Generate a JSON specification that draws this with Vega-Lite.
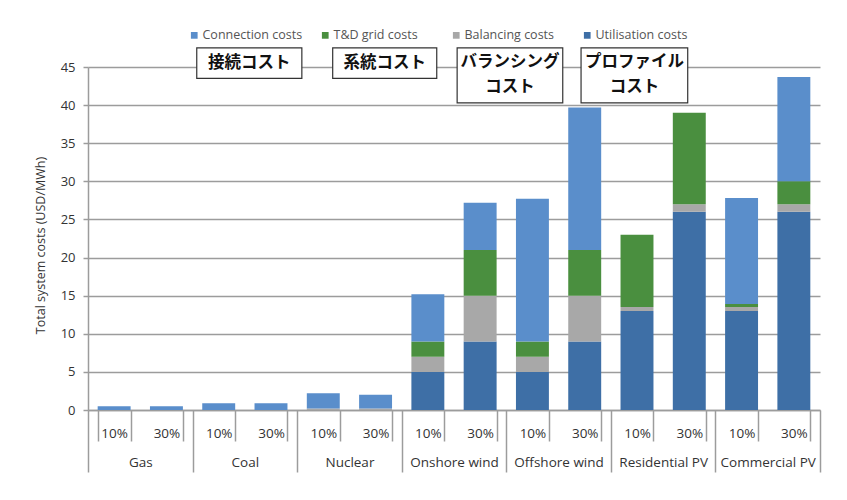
{
  "$schema": "https://vega.github.io/schema/vega-lite/v6.json",
  "autosize": {"type": "none"},
  "padding": {"left": 88, "top": 67, "right": 27, "bottom": 90},
  "width": 732,
  "height": 343,
  "config": {
    "view": {"stroke": null},
    "font": "Open Sans",
    "axis": {"labelFont": "Open Sans", "titleFont": "Open Sans"},
    "axisY": {
      "grid": true,
      "gridColor": "#9c9c9c",
      "gridWidth": 1.5,
      "domainColor": "#9c9c9c",
      "domainWidth": 1.5,
      "tickColor": "#9c9c9c",
      "tickWidth": 1.5,
      "tickSize": 5,
      "labelPadding": 8,
      "labelFontSize": 13,
      "labelColor": "#333333",
      "titleFontSize": 12.5,
      "titleFontWeight": "normal",
      "titleColor": "#333333",
      "titlePadding": 13,
      "titleY": 178
    }
  },
  "datasets": {
    "costs": [
      {"key": "Gas|10%", "tech": "Gas", "cost": "Connection costs", "value": 0.5},
      {"key": "Gas|30%", "tech": "Gas", "cost": "Connection costs", "value": 0.5},
      {"key": "Coal|10%", "tech": "Coal", "cost": "Connection costs", "value": 0.9},
      {"key": "Coal|30%", "tech": "Coal", "cost": "Connection costs", "value": 0.9},
      {"key": "Nuclear|10%", "tech": "Nuclear", "cost": "Balancing costs", "value": 0.2},
      {"key": "Nuclear|10%", "tech": "Nuclear", "cost": "Connection costs", "value": 2.0},
      {"key": "Nuclear|30%", "tech": "Nuclear", "cost": "Balancing costs", "value": 0.2},
      {"key": "Nuclear|30%", "tech": "Nuclear", "cost": "Connection costs", "value": 1.8},
      {"key": "Onshore wind|10%", "tech": "Onshore wind", "cost": "Utilisation costs", "value": 5},
      {"key": "Onshore wind|10%", "tech": "Onshore wind", "cost": "Balancing costs", "value": 2},
      {"key": "Onshore wind|10%", "tech": "Onshore wind", "cost": "T&D grid costs", "value": 2},
      {"key": "Onshore wind|10%", "tech": "Onshore wind", "cost": "Connection costs", "value": 6.2},
      {"key": "Onshore wind|30%", "tech": "Onshore wind", "cost": "Utilisation costs", "value": 9},
      {"key": "Onshore wind|30%", "tech": "Onshore wind", "cost": "Balancing costs", "value": 6},
      {"key": "Onshore wind|30%", "tech": "Onshore wind", "cost": "T&D grid costs", "value": 6},
      {"key": "Onshore wind|30%", "tech": "Onshore wind", "cost": "Connection costs", "value": 6.2},
      {"key": "Offshore wind|10%", "tech": "Offshore wind", "cost": "Utilisation costs", "value": 5},
      {"key": "Offshore wind|10%", "tech": "Offshore wind", "cost": "Balancing costs", "value": 2},
      {"key": "Offshore wind|10%", "tech": "Offshore wind", "cost": "T&D grid costs", "value": 2},
      {"key": "Offshore wind|10%", "tech": "Offshore wind", "cost": "Connection costs", "value": 18.7},
      {"key": "Offshore wind|30%", "tech": "Offshore wind", "cost": "Utilisation costs", "value": 9},
      {"key": "Offshore wind|30%", "tech": "Offshore wind", "cost": "Balancing costs", "value": 6},
      {"key": "Offshore wind|30%", "tech": "Offshore wind", "cost": "T&D grid costs", "value": 6},
      {"key": "Offshore wind|30%", "tech": "Offshore wind", "cost": "Connection costs", "value": 18.7},
      {"key": "Residential PV|10%", "tech": "Residential PV", "cost": "Utilisation costs", "value": 13},
      {"key": "Residential PV|10%", "tech": "Residential PV", "cost": "Balancing costs", "value": 0.5},
      {"key": "Residential PV|10%", "tech": "Residential PV", "cost": "T&D grid costs", "value": 9.5},
      {"key": "Residential PV|30%", "tech": "Residential PV", "cost": "Utilisation costs", "value": 26},
      {"key": "Residential PV|30%", "tech": "Residential PV", "cost": "Balancing costs", "value": 1},
      {"key": "Residential PV|30%", "tech": "Residential PV", "cost": "T&D grid costs", "value": 12},
      {"key": "Commercial PV|10%", "tech": "Commercial PV", "cost": "Utilisation costs", "value": 13},
      {"key": "Commercial PV|10%", "tech": "Commercial PV", "cost": "Balancing costs", "value": 0.5},
      {"key": "Commercial PV|10%", "tech": "Commercial PV", "cost": "T&D grid costs", "value": 0.4},
      {"key": "Commercial PV|10%", "tech": "Commercial PV", "cost": "Connection costs", "value": 13.9},
      {"key": "Commercial PV|30%", "tech": "Commercial PV", "cost": "Utilisation costs", "value": 26},
      {"key": "Commercial PV|30%", "tech": "Commercial PV", "cost": "Balancing costs", "value": 1},
      {"key": "Commercial PV|30%", "tech": "Commercial PV", "cost": "T&D grid costs", "value": 3},
      {"key": "Commercial PV|30%", "tech": "Commercial PV", "cost": "Connection costs", "value": 13.7}
    ],
    "notes": [
      {"label": "接続コスト", "x1": 2.08, "x2": 4.09, "y1": 43.5, "y2": 47.5, "cx": 3.085, "cy": 45.55},
      {"label": "系統コスト", "x1": 4.68, "x2": 6.67, "y1": 43.5, "y2": 47.5, "cx": 5.675, "cy": 45.55},
      {"label": "バランシング\nコスト", "x1": 7.06, "x2": 9.08, "y1": 40.3, "y2": 47.5, "cx": 8.07, "cy": 45.65},
      {"label": "プロファイル\nコスト", "x1": 9.43, "x2": 11.47, "y1": 40.3, "y2": 47.5, "cx": 10.45, "cy": 45.65}
    ]
  },
  "resolve": {"scale": {"x": "independent"}, "axis": {"x": "independent"}},
  "layer": [
    {
      "data": {"name": "costs"},
      "transform": [
        {"calculate": "indexof(['Utilisation costs','Balancing costs','T&D grid costs','Connection costs'], datum.cost)", "as": "stackorder"}
      ],
      "mark": {"type": "bar"},
      "encoding": {
        "x": {
          "field": "key", "type": "nominal", "sort": null,
          "scale": {"paddingInner": 0.37, "paddingOuter": 0.185},
          "axis": {
            "orient": "bottom",
            "title": null,
            "labelExpr": "split(datum.value, '|')[1]",
            "labelAngle": 0,
            "tickBand": "extent",
            "tickSize": 31,
            "tickColor": "#9c9c9c",
            "tickWidth": 1.5,
            "domainColor": "#9c9c9c",
            "domainWidth": 1.5,
            "labelPadding": -15,
            "labelFontSize": 13.5,
            "labelColor": "#333333",
            "grid": false
          }
        },
        "y": {
          "field": "value", "type": "quantitative", "aggregate": "sum",
          "stack": "zero",
          "title": "Total system costs (USD/MWh)",
          "scale": {"domain": [0, 45], "nice": false},
          "axis": {"values": [0, 5, 10, 15, 20, 25, 30, 35, 40, 45]}
        },
        "color": {
          "field": "cost", "type": "nominal",
          "scale": {
            "domain": ["Connection costs", "T&D grid costs", "Balancing costs", "Utilisation costs"],
            "range": ["#5a8ecb", "#4a8f3f", "#a8a8a8", "#3e6fa6"]
          },
          "legend": {
            "title": null,
            "orient": "none",
            "direction": "horizontal",
            "columns": 4,
            "gridAlign": "all",
            "legendX": 100,
            "legendY": -38,
            "symbolType": "square",
            "symbolSize": 45,
            "symbolStrokeWidth": 0,
            "labelFontSize": 12.5,
            "labelColor": "#555555",
            "labelOffset": 2,
            "columnPadding": 16
          }
        },
        "order": {"field": "stackorder", "type": "quantitative"}
      }
    },
    {
      "data": {"name": "costs"},
      "mark": {"type": "rule", "opacity": 0},
      "encoding": {
        "x": {
          "field": "tech", "type": "nominal", "sort": null,
          "scale": {"paddingInner": 0, "paddingOuter": 0},
          "axis": {
            "orient": "bottom",
            "title": null,
            "labelAngle": 0,
            "tickBand": "extent",
            "tickSize": 62,
            "tickColor": "#9c9c9c",
            "tickWidth": 1.5,
            "domain": false,
            "labelPadding": -17,
            "labelFontSize": 13.5,
            "labelColor": "#333333",
            "grid": false
          }
        }
      }
    },
    {
      "data": {"name": "notes"},
      "mark": {"type": "rect", "fill": "white", "stroke": "#333333", "strokeWidth": 1.2},
      "encoding": {
        "x": {"field": "x1", "type": "quantitative", "scale": {"domain": [0, 14], "nice": false, "zero": false}, "axis": null},
        "x2": {"field": "x2"},
        "y": {"field": "y1", "type": "quantitative", "scale": {"domain": [0, 45], "nice": false}, "title": "Total system costs (USD/MWh)", "axis": {"values": [0, 5, 10, 15, 20, 25, 30, 35, 40, 45]}},
        "y2": {"field": "y2"}
      }
    },
    {
      "data": {"name": "notes"},
      "mark": {"type": "text", "font": "Noto Sans CJK JP", "fontWeight": "bold", "fontSize": 16.5, "color": "#111111", "lineBreak": "\n", "lineHeight": 25, "baseline": "middle", "align": "center"},
      "encoding": {
        "x": {"field": "cx", "type": "quantitative", "scale": {"domain": [0, 14], "nice": false, "zero": false}, "axis": null},
        "y": {"field": "cy", "type": "quantitative", "scale": {"domain": [0, 45], "nice": false}, "title": "Total system costs (USD/MWh)", "axis": {"values": [0, 5, 10, 15, 20, 25, 30, 35, 40, 45]}},
        "text": {"field": "label"}
      }
    }
  ]
}
